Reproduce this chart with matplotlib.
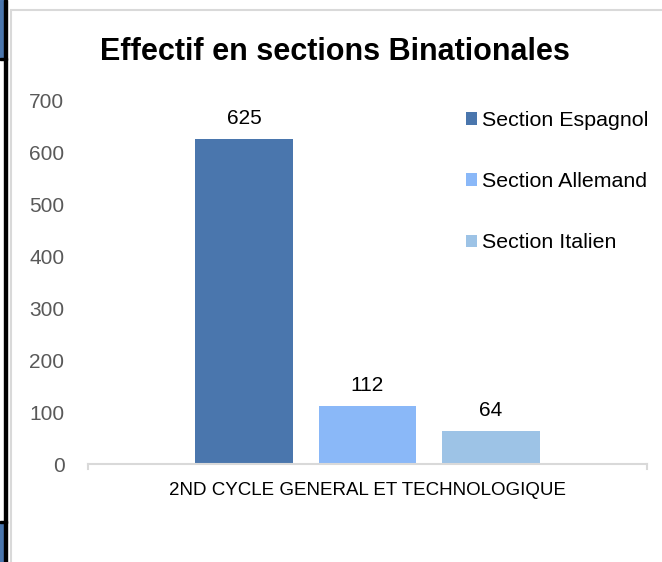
import matplotlib.pyplot as plt
import matplotlib.patches as mpatches
import numpy as np

plt.rcParams['font.family'] = ['Liberation Sans', 'DejaVu Sans']

categorie = ['2ND CYCLE GENERAL ET TECHNOLOGIQUE']
sections = ['Section Espagnol', 'Section Allemand', 'Section Italien']
effectifs = [625, 112, 64]
couleurs = ['#4A76AD', '#8AB8F8', '#9DC3E6']

fig = plt.figure(figsize=(6.62, 5.62), dpi=100)
W, H = 662, 562

# cadre gris du graphique + bords de la page a gauche
fig.patches.append(mpatches.Rectangle((11 / W, -0.1), 1.2, 1 - 10 / H + 0.1,
                                      transform=fig.transFigure, fill=False,
                                      edgecolor='#d9d9d9', linewidth=1.5))
fig.patches.append(mpatches.Rectangle((0, 1 - 58 / H), 4 / W, 58 / H,
                                      transform=fig.transFigure, color='#4A76AD'))
fig.patches.append(mpatches.Rectangle((0, 0), 4 / W, 39 / H,
                                      transform=fig.transFigure, color='#4A76AD'))
fig.patches.append(mpatches.Rectangle((4 / W, 0), 3 / W, 1,
                                      transform=fig.transFigure, color='black'))
fig.patches.append(mpatches.Rectangle((0, 1 - 60 / H), 7 / W, 2 / H,
                                      transform=fig.transFigure, color='black'))
fig.patches.append(mpatches.Rectangle((0, 39 / H), 7 / W, 2 / H,
                                      transform=fig.transFigure, color='black'))

ax = fig.add_axes([88 / W, (H - 464) / H, 559 / W, 364 / H])

x = np.arange(len(categorie))
largeur = 0.175
pas = 0.221
barres = []
for i, (nom, val, c) in enumerate(zip(sections, effectifs, couleurs)):
    b = ax.bar(x + (i - 1) * pas, [val], largeur, color=c, label=nom)
    ax.bar_label(b, padding=8, fontsize=15, color='black')
    barres.append(b)

ax.set_xlim(-0.5, 0.5)
ax.set_ylim(0, 700)
ax.set_yticks(range(0, 701, 100))
ax.tick_params(axis='y', length=0, pad=17, labelsize=15, labelcolor='#595959')
ax.set_xticks(x)
ax.set_xticklabels(categorie)
ax.tick_params(axis='x', length=0, pad=13, labelsize=13.5, labelcolor='black')
for s in ['top', 'right', 'left']:
    ax.spines[s].set_visible(False)
ax.spines['bottom'].set_color('#d9d9d9')
ax.spines['bottom'].set_linewidth(1.5)
for xe in [-0.5, 0.5]:
    ax.plot([xe, xe], [0, -9], color='#d9d9d9', lw=1.5, clip_on=False)

fig.text(335 / W, 1 - 52 / H, 'Effectif en sections Binationales',
         ha='center', va='center', fontsize=22, fontweight='bold')

fig.legend(handles=[b for b in barres], labels=sections,
           loc='upper left', bbox_to_anchor=(466 / W, 1 - 111 / H),
           frameon=False, fontsize=15.4, handlelength=0.5, handleheight=0.5,
           handletextpad=0.25, labelspacing=1.97, borderpad=0, borderaxespad=0)

fig.savefig('out.png', dpi=100)
